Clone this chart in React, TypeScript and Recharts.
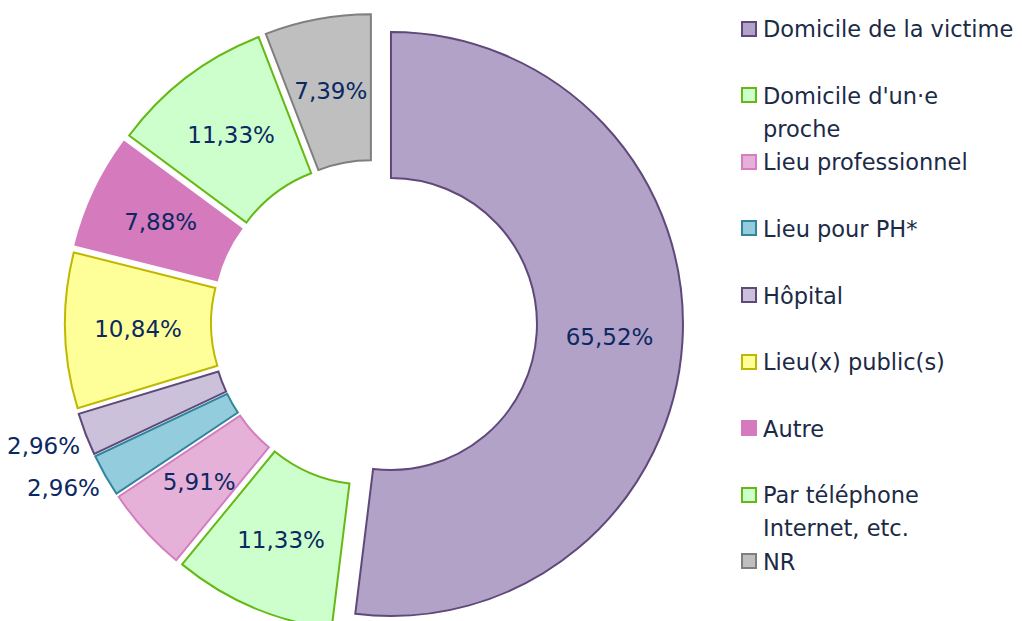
import { Legend, Pie, PieChart, Sector } from 'recharts';

const categories = [
  'Domicile de la victime',
  "Domicile d'un·e\nproche",
  'Lieu professionnel',
  'Lieu pour PH*',
  'Hôpital',
  'Lieu(x) public(s)',
  'Autre',
  'Par téléphone\nInternet, etc.',
  'NR',
];
const shares = [65.52, 11.33, 5.91, 2.96, 2.96, 10.84, 7.88, 11.33, 7.39];
// these two small slices carry their label outside the ring
const outsideLabels = ['Lieu pour PH*', 'Hôpital'];

const fills = ['#b3a2c7', '#ccffcc', '#e6b1d8', '#93cddd', '#ccc1da', '#ffff99', '#d47abd', '#ccffcc', '#bfbfbf'];
const strokes = ['#5f497a', '#66b814', '#d47ec0', '#31859c', '#5f497a', '#bfb800', '#d47abd', '#66b814', '#7f7f7f'];

const data = categories.map((name, i) => ({ name, value: shares[i] }));

const FONT = '"DejaVu Sans", Verdana, sans-serif';
const RAD = Math.PI / 180;
const EXPLODE = 17;

const fmt = (v: number) => `${v.toFixed(2).replace('.', ',')}%`;

// draws each slice pulled out along its mid angle, with its value label
function ExplodedSlice(props: any) {
  const { cx, cy, innerRadius, outerRadius, startAngle, endAngle, midAngle, index } = props;
  const cos = Math.cos(-midAngle * RAD);
  const sin = Math.sin(-midAngle * RAD);
  const sx = cx + EXPLODE * cos;
  const sy = cy + EXPLODE * sin;
  const row = data[index];
  const outside = outsideLabels.includes(row.name);
  const r = outside ? outerRadius + 6 : (innerRadius + outerRadius) / 2;

  return (
    <g>
      <Sector
        cx={sx}
        cy={sy}
        innerRadius={innerRadius}
        outerRadius={outerRadius}
        startAngle={startAngle}
        endAngle={endAngle}
        fill={fills[index]}
        stroke={strokes[index]}
        strokeWidth={2}
      />
      <text
        x={sx + r * cos}
        y={sy + r * sin + (outside ? 10 : 0)}
        textAnchor={outside ? 'end' : 'middle'}
        dominantBaseline="central"
        fontFamily={FONT}
        fontSize={23}
        fill="#0b2862"
      >
        {fmt(row.value)}
      </text>
    </g>
  );
}

function LegendBlock() {
  return (
    <div style={{ position: 'relative', width: 280, height: 600, fontFamily: FONT, fontSize: 22.5, color: '#1b2a45' }}>
      {categories.map((name, i) => (
        <div key={name} style={{ position: 'absolute', left: 0, top: 5.2 + i * 66.6 }}>
          <div
            style={{
              position: 'absolute',
              left: 0,
              top: 7.4,
              width: 16,
              height: 16,
              boxSizing: 'border-box',
              background: fills[i],
              border: `2px solid ${strokes[i]}`,
            }}
          />
          <div style={{ position: 'absolute', left: 22, top: 0, lineHeight: '33px', whiteSpace: 'pre' }}>{name}</div>
        </div>
      ))}
    </div>
  );
}

export default function App() {
  return (
    <PieChart width={1014} height={613} margin={{ top: 0, right: 0, bottom: 0, left: 0 }} style={{ overflow: 'visible' }}>
      <Pie
        data={data}
        dataKey="value"
        nameKey="name"
        cx={366}
        cy={315}
        innerRadius={146}
        outerRadius={292}
        startAngle={90}
        endAngle={-270}
        fill="none"
        stroke="none"
        label={ExplodedSlice}
        labelLine={false}
        isAnimationActive={false}
      />
      <Legend
        layout="vertical"
        align="right"
        verticalAlign="top"
        content={() => <LegendBlock />}
        wrapperStyle={{ left: 733, top: 0, right: 'auto', width: 280, height: 600 }}
      />
    </PieChart>
  );
}
